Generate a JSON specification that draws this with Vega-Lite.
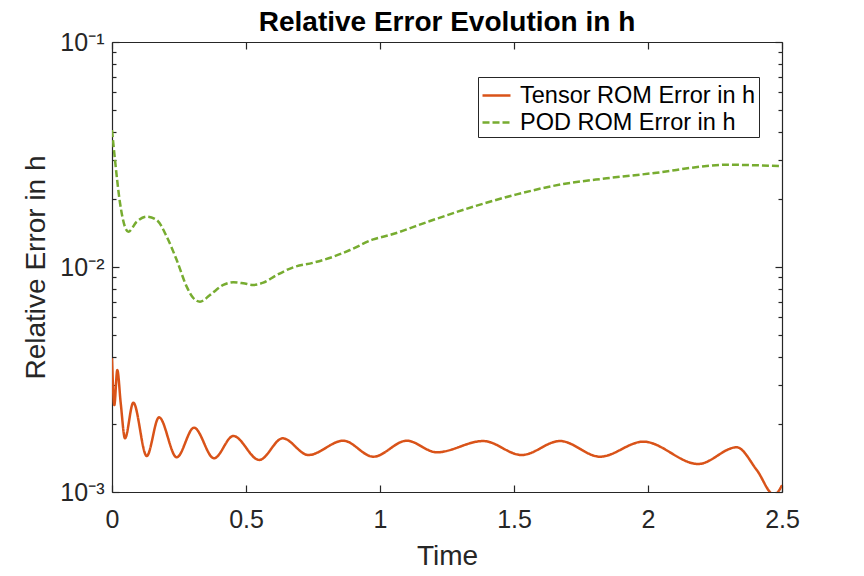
{
  "$schema": "https://vega.github.io/schema/vega-lite/v6.json",
  "width": 670,
  "height": 450,
  "autosize": "none",
  "padding": {"left": 112, "top": 42, "right": 82, "bottom": 84},
  "background": "white",
  "title": {
    "text": "Relative Error Evolution in h",
    "font": "Liberation Sans",
    "fontSize": 28,
    "fontWeight": "bold",
    "color": "#000000",
    "anchor": "middle",
    "offset": -7
  },
  "config": {
    "view": {"stroke": null},
    "font": "Liberation Sans",
    "axis": {
      "grid": false,
      "labelFlush": false,
      "domainColor": "#262626",
      "domainWidth": 1.2,
      "tickColor": "#262626",
      "tickWidth": 1.2,
      "labelColor": "#262626",
      "titleColor": "#262626",
      "labelFont": "Liberation Sans",
      "titleFont": "Liberation Sans",
      "labelFontSize": 25,
      "titleFontSize": 28,
      "titleFontWeight": "normal"
    },
    "legend": {
      "orient": "none",
      "legendX": 366,
      "legendY": 35,
      "fillColor": "white",
      "strokeColor": "#262626",
      "padding": 3,
      "labelFont": "Liberation Sans",
      "labelFontSize": 23.5,
      "labelLimit": 400,
      "labelColor": "#000000",
      "labelOffset": 8,
      "rowPadding": 0,
      "symbolType": "stroke",
      "symbolSize": 784,
      "symbolStrokeWidth": 2.4
    }
  },
  "data": {
    "values": [
      {"time": 0.0, "error": 0.003929, "series": "Tensor ROM Error in h"},
      {"time": 0.0086, "error": 0.002435, "series": "Tensor ROM Error in h"},
      {"time": 0.0198, "error": 0.003485, "series": "Tensor ROM Error in h"},
      {"time": 0.0325, "error": 0.002486, "series": "Tensor ROM Error in h"},
      {"time": 0.0485, "error": 0.001732, "series": "Tensor ROM Error in h"},
      {"time": 0.0795, "error": 0.002494, "series": "Tensor ROM Error in h"},
      {"time": 0.1295, "error": 0.001445, "series": "Tensor ROM Error in h"},
      {"time": 0.1754, "error": 0.002148, "series": "Tensor ROM Error in h"},
      {"time": 0.2414, "error": 0.001426, "series": "Tensor ROM Error in h"},
      {"time": 0.306, "error": 0.001931, "series": "Tensor ROM Error in h"},
      {"time": 0.3806, "error": 0.001412, "series": "Tensor ROM Error in h"},
      {"time": 0.4526, "error": 0.001774, "series": "Tensor ROM Error in h"},
      {"time": 0.5496, "error": 0.001388, "series": "Tensor ROM Error in h"},
      {"time": 0.6369, "error": 0.001732, "series": "Tensor ROM Error in h"},
      {"time": 0.7325, "error": 0.00146, "series": "Tensor ROM Error in h"},
      {"time": 0.8631, "error": 0.00169, "series": "Tensor ROM Error in h"},
      {"time": 0.975, "error": 0.001435, "series": "Tensor ROM Error in h"},
      {"time": 1.0996, "error": 0.00169, "series": "Tensor ROM Error in h"},
      {"time": 1.2116, "error": 0.001501, "series": "Tensor ROM Error in h"},
      {"time": 1.3854, "error": 0.001685, "series": "Tensor ROM Error in h"},
      {"time": 1.5287, "error": 0.00146, "series": "Tensor ROM Error in h"},
      {"time": 1.6716, "error": 0.001685, "series": "Tensor ROM Error in h"},
      {"time": 1.8209, "error": 0.001435, "series": "Tensor ROM Error in h"},
      {"time": 1.9825, "error": 0.001674, "series": "Tensor ROM Error in h"},
      {"time": 2.1877, "error": 0.001332, "series": "Tensor ROM Error in h"},
      {"time": 2.331, "error": 0.00158, "series": "Tensor ROM Error in h"},
      {"time": 2.4056, "error": 0.001253, "series": "Tensor ROM Error in h"},
      {"time": 2.4713, "error": 0.00097, "series": "Tensor ROM Error in h"},
      {"time": 2.5, "error": 0.001074, "series": "Tensor ROM Error in h"},

      {"time": 0.0, "error": 0.0406, "series": "POD ROM Error in h"},
      {"time": 0.0112, "error": 0.0299, "series": "POD ROM Error in h"},
      {"time": 0.0299, "error": 0.01926, "series": "POD ROM Error in h"},
      {"time": 0.0485, "error": 0.01507, "series": "POD ROM Error in h"},
      {"time": 0.0608, "error": 0.01435, "series": "POD ROM Error in h"},
      {"time": 0.0922, "error": 0.0159, "series": "POD ROM Error in h"},
      {"time": 0.1295, "error": 0.01674, "series": "POD ROM Error in h"},
      {"time": 0.1668, "error": 0.01618, "series": "POD ROM Error in h"},
      {"time": 0.2041, "error": 0.01364, "series": "POD ROM Error in h"},
      {"time": 0.2414, "error": 0.01074, "series": "POD ROM Error in h"},
      {"time": 0.2787, "error": 0.00818, "series": "POD ROM Error in h"},
      {"time": 0.3034, "error": 0.00728, "series": "POD ROM Error in h"},
      {"time": 0.3284, "error": 0.00701, "series": "POD ROM Error in h"},
      {"time": 0.3657, "error": 0.00751, "series": "POD ROM Error in h"},
      {"time": 0.4153, "error": 0.00832, "series": "POD ROM Error in h"},
      {"time": 0.4526, "error": 0.00855, "series": "POD ROM Error in h"},
      {"time": 0.4899, "error": 0.00846, "series": "POD ROM Error in h"},
      {"time": 0.5272, "error": 0.00832, "series": "POD ROM Error in h"},
      {"time": 0.5646, "error": 0.00852, "series": "POD ROM Error in h"},
      {"time": 0.6146, "error": 0.00921, "series": "POD ROM Error in h"},
      {"time": 0.6765, "error": 0.00997, "series": "POD ROM Error in h"},
      {"time": 0.7511, "error": 0.01045, "series": "POD ROM Error in h"},
      {"time": 0.8257, "error": 0.01111, "series": "POD ROM Error in h"},
      {"time": 0.8881, "error": 0.0119, "series": "POD ROM Error in h"},
      {"time": 0.975, "error": 0.01327, "series": "POD ROM Error in h"},
      {"time": 1.0373, "error": 0.01388, "series": "POD ROM Error in h"},
      {"time": 1.1866, "error": 0.01601, "series": "POD ROM Error in h"},
      {"time": 1.3481, "error": 0.01854, "series": "POD ROM Error in h"},
      {"time": 1.51, "error": 0.02103, "series": "POD ROM Error in h"},
      {"time": 1.684, "error": 0.02338, "series": "POD ROM Error in h"},
      {"time": 1.8459, "error": 0.02478, "series": "POD ROM Error in h"},
      {"time": 2.0325, "error": 0.02624, "series": "POD ROM Error in h"},
      {"time": 2.219, "error": 0.02811, "series": "POD ROM Error in h"},
      {"time": 2.2937, "error": 0.02849, "series": "POD ROM Error in h"},
      {"time": 2.4056, "error": 0.02831, "series": "POD ROM Error in h"},
      {"time": 2.5, "error": 0.02811, "series": "POD ROM Error in h"}
    ]
  },
  "encoding": {
    "x": {
      "field": "time",
      "type": "quantitative",
      "scale": {"domain": [0, 2.5], "nice": false, "zero": false}
    },
    "y": {
      "field": "error",
      "type": "quantitative",
      "scale": {"type": "log", "domain": [0.001, 0.1], "nice": false}
    },
    "color": {
      "field": "series",
      "type": "nominal",
      "title": null,
      "scale": {
        "domain": ["Tensor ROM Error in h", "POD ROM Error in h"],
        "range": ["#D95319", "#77AC30"]
      }
    },
    "strokeDash": {
      "field": "series",
      "type": "nominal",
      "title": null,
      "scale": {
        "domain": ["Tensor ROM Error in h", "POD ROM Error in h"],
        "range": [[1, 0], [7, 3]]
      }
    }
  },
  "layer": [
    {
      "transform": [{"filter": "datum.series === 'Tensor ROM Error in h'"}],
      "mark": {"type": "line", "interpolate": "monotone", "strokeWidth": 2.5, "clip": true},
      "encoding": {
        "x": {
          "field": "time",
          "type": "quantitative",
          "title": "Time",
          "axis": {
            "orient": "bottom",
            "values": [0, 0.5, 1, 1.5, 2, 2.5],
            "format": "~g",
            "tickSize": -7,
            "labelPadding": 22,
            "titlePadding": 10
          }
        },
        "y": {
          "field": "error",
          "type": "quantitative",
          "title": "Relative Error in h",
          "axis": {
            "orient": "left",
            "values": [0.001, 0.002, 0.003, 0.004, 0.005, 0.006, 0.007, 0.008, 0.009, 0.01, 0.02, 0.03, 0.04, 0.05, 0.06, 0.07, 0.08, 0.09, 0.1],
            "labelExpr": "datum.value == 0.1 ? '10⁻¹' : datum.value == 0.01 ? '10⁻²' : datum.value == 0.001 ? '10⁻³' : ''",
            "tickSize": {"condition": {"test": "datum.value == 0.1 || datum.value == 0.01 || datum.value == 0.001", "value": -7}, "value": -4},
            "labelPadding": 15,
            "titlePadding": 9
          }
        }
      }
    },
    {
      "transform": [{"filter": "datum.series === 'POD ROM Error in h'"}],
      "mark": {"type": "line", "interpolate": "monotone", "strokeWidth": 2.5, "clip": true},
      "encoding": {
        "x": {
          "field": "time",
          "type": "quantitative",
          "axis": {
            "orient": "top",
            "values": [0, 0.5, 1, 1.5, 2, 2.5],
            "labels": false,
            "title": null,
            "tickSize": -7
          }
        },
        "y": {
          "field": "error",
          "type": "quantitative",
          "axis": {
            "orient": "right",
            "values": [0.001, 0.002, 0.003, 0.004, 0.005, 0.006, 0.007, 0.008, 0.009, 0.01, 0.02, 0.03, 0.04, 0.05, 0.06, 0.07, 0.08, 0.09, 0.1],
            "labels": false,
            "title": null,
            "tickSize": {"condition": {"test": "datum.value == 0.1 || datum.value == 0.01 || datum.value == 0.001", "value": -7}, "value": -4}
          }
        }
      }
    }
  ],
  "resolve": {"axis": {"x": "independent", "y": "independent"}}
}
